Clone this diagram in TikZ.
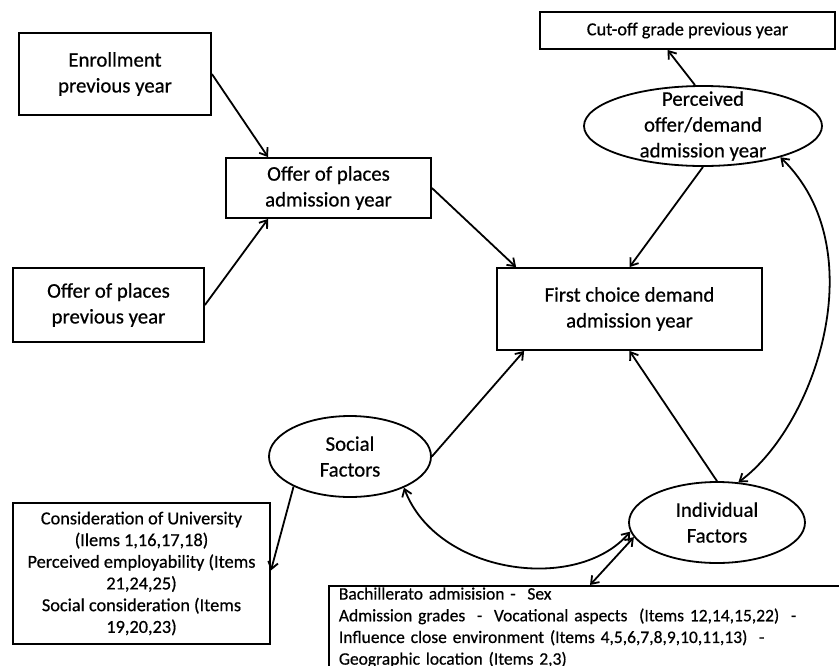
\documentclass[tikz,border=0pt]{standalone}
\usepackage{fontspec}
\setmainfont{Carlito}[FakeBold=0.6]
\usetikzlibrary{arrows.meta,shapes.geometric}
\begin{document}
\begin{tikzpicture}[x=1pt,y=-1pt,
  box/.style={draw,line width=1.8pt,inner sep=0pt,align=center,font=\fontsize{20.8}{25.8}\selectfont},
  oval/.style={ellipse,draw,line width=1.8pt,inner sep=0pt},
  ovaltext/.style={align=center,font=\fontsize{20.8}{25.8}\selectfont},
  smalltext/.style={font=\fontsize{18.3}{21.7}\selectfont},
  conn/.style={line width=1.8pt,-{Straight Barb[length=7pt,width=10pt]}},
  both/.style={line width=1.8pt,{Straight Barb[length=7pt,width=10pt]}-{Straight Barb[length=7pt,width=10pt]}}]
\useasboundingbox (0,0) rectangle (839,665);
\fill[white] (0,0) rectangle (839,665);
\clip (0,0) rectangle (839,665);
% boxes
\node[box,minimum width=192pt,minimum height=82pt] (enroll) at (115,74) {Enrollment\\previous year};
\node[box,minimum width=205pt,minimum height=60pt] (offadm) at (328.5,188) {Offer of places\\admission year};
\node[box,minimum width=191pt,minimum height=74pt] (offprev) at (108.5,305) {Offer of places\\previous year};
\node[box,minimum width=295pt,minimum height=37pt,font=\fontsize{18.3}{22}\selectfont] (cut) at (687.5,30.5) {Cut-off grade previous year};
\node[box,minimum width=265pt,minimum height=82pt] (first) at (629.5,309) {First choice demand\\admission year};
\node[box,smalltext,minimum width=257pt,minimum height=141pt] (sbox) at (141.5,573.5) {Consideration of University\\(Ilems 1,16,17,18)\\Perceived employability (Items\\21,24,25)\\Social consideration (Items\\19,20,23)};
\node[draw,line width=1.8pt,anchor=north west,font=\fontsize{17.5}{21.7}\selectfont,text width=510pt,align=left,inner xsep=10pt,inner ysep=1.5pt] (bot) at (328,585) {Bachillerato admisision -\ \ Sex\\Admission grades\ \ -\ \ Vocational aspects\ \ (Items 12,14,15,22)\ \ -\\Influence close environment (Items 4,5,6,7,8,9,10,11,13)\ \ -\\Geographic location (Items 2,3)\\ };
% ellipses
\node[oval,minimum width=238pt,minimum height=80pt,label={[ovaltext]center:Perceived\\offer/demand\\admission year}] (perc) at (703,126) {};
\node[oval,minimum width=162pt,minimum height=81pt,label={[ovaltext]center:Social\\Factors}] (social) at (350,456.5) {};
\node[oval,minimum width=176pt,minimum height=81pt,label={[ovaltext]center:Individual\\Factors}] (indiv) at (717,522.5) {};
% connectors
\draw[conn] (enroll.east) -- ([xshift=43pt]offadm.north west);
\draw[conn] (offprev.east) -- ([xshift=43pt]offadm.south west);
\draw[conn] (offadm.east) -- ([xshift=20pt]first.north west);
\draw[conn] (perc.south) -- (first.north);
\draw[conn] ([xshift=-8pt]perc.north) -- ([xshift=-20pt]cut.south);
\draw[conn] (social.east) -- ([xshift=28pt]first.south west);
\draw[conn] (indiv.north) -- (first.south);
\draw[conn] (social.208) -- ([yshift=3pt]sbox.east);
\draw[both] (indiv.62) .. controls +(77,-57) and +(95,92) .. (perc.-22);
\draw[both] (social.-30) .. controls +(33,87) and +(-53,62) .. (indiv.186);
\draw[both] (indiv.190) -- ([xshift=262pt]bot.north west);
\end{tikzpicture}
\end{document}
